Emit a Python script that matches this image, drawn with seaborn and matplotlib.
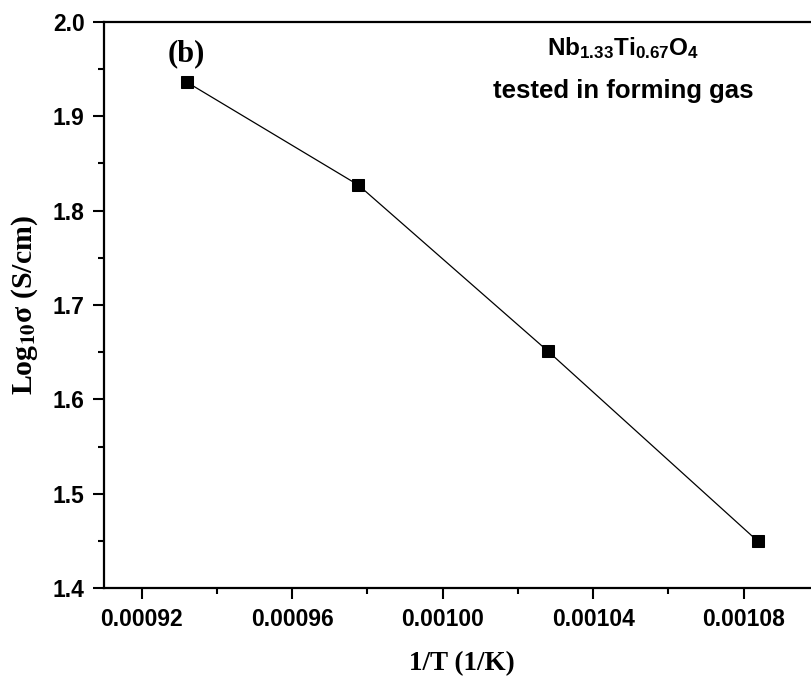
import matplotlib
matplotlib.use("Agg")
import matplotlib.pyplot as plt
import seaborn as sns
import pandas as pd
from matplotlib.ticker import MultipleLocator, FormatStrFormatter

# Data
inv_T = [0.000932, 0.0009776, 0.001028, 0.0010837]
log_sigma = [1.936, 1.827, 1.651, 1.450]
x_ticks = [0.00092, 0.00096, 0.00100, 0.00104, 0.00108]
y_ticks = [1.4, 1.5, 1.6, 1.7, 1.8, 1.9, 2.0]

df = pd.DataFrame({"x": inv_T, "y": log_sigma})

sns.set_style("ticks")
plt.rcParams["mathtext.fontset"] = "custom"
plt.rcParams["mathtext.bf"] = "Liberation Sans:bold"
plt.rcParams["mathtext.rm"] = "Liberation Sans:bold"
plt.rcParams["text.color"] = "black"
plt.rcParams["xtick.color"] = "black"
plt.rcParams["ytick.color"] = "black"
plt.rcParams["axes.labelcolor"] = "black"

fig = plt.figure(figsize=(8.12, 6.8), dpi=100)
ax = fig.add_axes([104 / 812, 1 - 588.3 / 680, 715 / 812, (588.3 - 21.7) / 680])

sns.lineplot(data=df, x="x", y="y", ax=ax, color="black", linewidth=0.9,
             marker="s", markersize=9, markeredgecolor="black",
             markerfacecolor="black", sort=False)

ax.set_xlim(0.00091, 0.00110)
ax.set_ylim(1.4, 2.0)
ax.set_xticks(x_ticks)
ax.set_yticks(y_ticks)
ax.xaxis.set_minor_locator(MultipleLocator(0.00002))
ax.yaxis.set_minor_locator(MultipleLocator(0.05))
ax.xaxis.set_major_formatter(FormatStrFormatter("%.5f"))
ax.yaxis.set_major_formatter(FormatStrFormatter("%.1f"))

for s in ax.spines.values():
    s.set_linewidth(1.6)
    s.set_color("black")

ax.tick_params(which="major", direction="out", length=8, width=1.5,
               labelsize=16.5, pad=6, colors="black")
ax.tick_params(which="minor", direction="out", length=4, width=1.5,
               colors="black")
for lab in ax.get_xticklabels() + ax.get_yticklabels():
    lab.set_fontfamily("Liberation Sans")
    lab.set_fontweight("bold")

ax.set_xlabel("1/T (1/K)", fontfamily="Liberation Serif", fontweight="bold",
              fontsize=19.5, labelpad=15, color="black")
ax.set_ylabel(r"Log$_{\mathbf{10}}$σ (S/cm)", fontfamily="Liberation Serif",
              fontweight="bold", fontsize=21.5, labelpad=9,
              math_fontfamily="stix", color="black")

ax.text(0.000932, 1.966, "(b)", fontfamily="Liberation Serif",
        fontweight="bold", fontsize=22, ha="center", va="center",
        color="black")
ax.text(0.001048, 1.972, r"$\mathbf{Nb_{1.33}Ti_{0.67}O_4}$", fontsize=17.5,
        ha="center", va="center", math_fontfamily="custom", color="black")
ax.text(0.001048, 1.927, "tested in forming gas", fontfamily="Liberation Sans",
        fontweight="bold", fontsize=18.5, ha="center", va="center",
        color="black")

fig.savefig("out.png", dpi=100)
